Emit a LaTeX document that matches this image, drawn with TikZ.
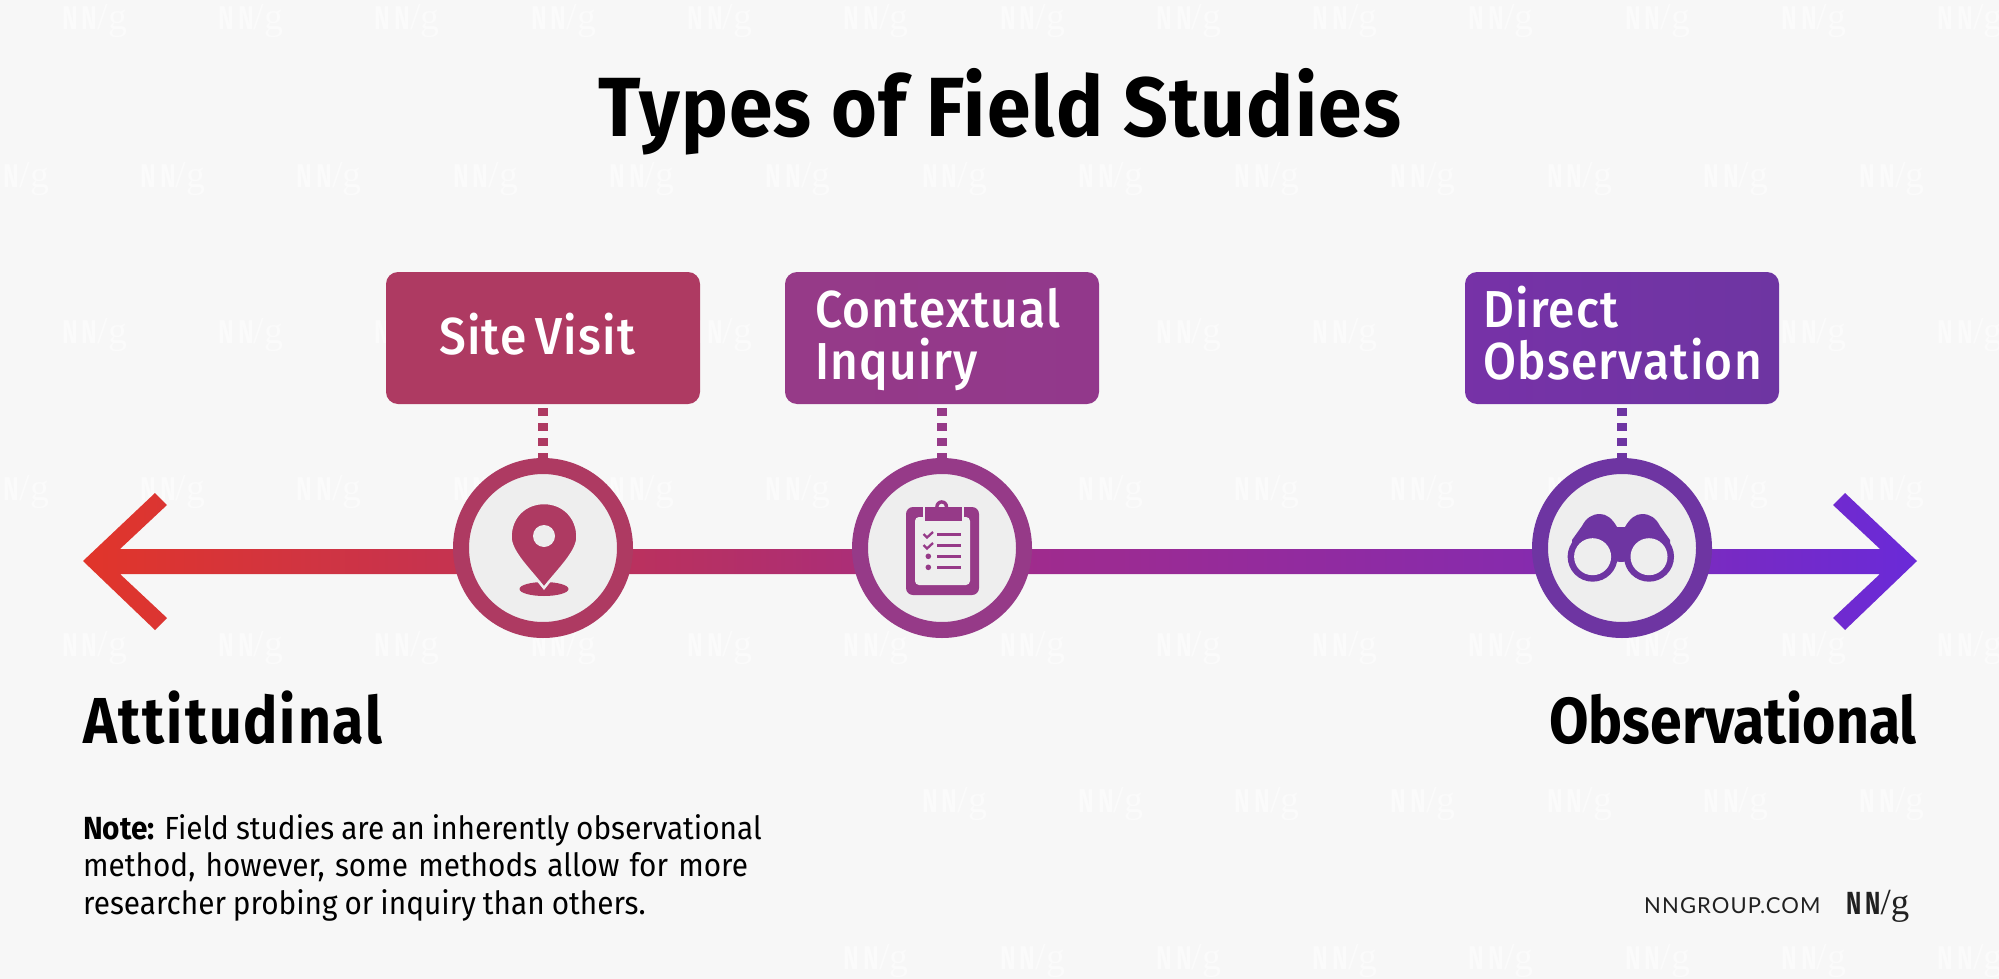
\documentclass[tikz,border=0pt]{standalone}
\usepackage{fontspec}
\setmainfont{Fira Sans}
\newfontfamily\tfont[FakeStretch=.935,LetterSpace=1.5]{Fira Sans Bold}
\newfontfamily\hfont[FakeStretch=.88]{Fira Sans Bold}
\newfontfamily\afont[FakeStretch=.88,LetterSpace=3]{Fira Sans Bold}
\newfontfamily\bfont[FakeStretch=.92,LetterSpace=2.5]{Fira Sans Medium}
\newfontfamily\nfont[FakeStretch=.93]{Fira Sans}
\newfontfamily\nbold[FakeStretch=.93]{Fira Sans Bold}
\newfontfamily\lfont[LetterSpace=5]{Lato}
\newfontfamily\nnf[FakeStretch=.72,LetterSpace=12]{Fira Sans Bold}
\newfontfamily\ggf[Scale=1.15]{Liberation Serif}
\newcommand{\nnmark}{{\nnf NN}{\ggf /g}}
\definecolor{bgc}{HTML}{F7F7F7}
\definecolor{wm}{HTML}{FBFBFB}
\definecolor{ca}{HTML}{E1352A}
\definecolor{cb}{HTML}{C7334E}
\definecolor{cc}{HTML}{B63064}
\definecolor{cd}{HTML}{9F2B8E}
\definecolor{ce}{HTML}{862BAE}
\definecolor{cf}{HTML}{6A2AD8}
\definecolor{one}{HTML}{AE3A62}
\definecolor{two}{HTML}{963A88}
\definecolor{three}{HTML}{6E35A2}
\definecolor{hole}{HTML}{EEEEEE}
\pgfdeclarehorizontalshading{axisg}{100bp}{color(0bp)=(ca); color(25bp)=(ca); color(34.5bp)=(cb); color(41.8bp)=(cc); color(51.1bp)=(cd); color(64.5bp)=(ce); color(75bp)=(cf); color(100bp)=(cf)}
\tikzset{
  boxnode/.style={rectangle,rounded corners=12pt,minimum width=314pt,minimum height=132pt,inner sep=0pt,text=white,font=\fontsize{52}{52}\selectfont\bfont},
  ringnode/.style={circle,line width=16pt,minimum size=164pt,inner sep=0pt,fill=hole},
  dots/.style={line width=10pt,dash pattern=on 7.5pt off 7.5pt,dash phase=11pt},
  wmark/.style={anchor=base west,inner sep=0pt,text=wm,font=\fontsize{33}{33}\selectfont},
  headtext/.style={anchor=base west,inner sep=0pt,text=black,font=\fontsize{65}{65}\selectfont\hfont},
}
\begin{document}
\begin{tikzpicture}[x=1pt,y=-1pt]
\useasboundingbox (0,0) rectangle (1999,979);
\fill[bgc] (0,0) rectangle (1999,979);
% watermark rows
\foreach \r/\by in {1/30,3/343,5/656,7/969}{
  \foreach \k in {0,...,12}{
    \pgfmathsetmacro{\wx}{62+156.3*\k}
    \pgfmathparse{(\r>=7 && \wx<840) ? 0 : 1}
    \ifnum\pgfmathresult>0
      \node[wmark] (wa\r\k) at (\wx,\by) {\nnmark};
    \fi
  }
}
\foreach \r/\by in {2/187,4/500,6/812}{
  \foreach \k in {0,...,13}{
    \pgfmathsetmacro{\wx}{-16+156.3*\k}
    \pgfmathparse{(\r>=6 && \wx<840) ? 0 : 1}
    \ifnum\pgfmathresult>0
      \node[wmark] (wb\r\k) at (\wx,\by) {\nnmark};
    \fi
  }
}
% axis
\path[shading=axisg,shading angle=0]
 (83,561) -- (155,493) -- (167,505) -- (120,549) -- (1880,549) -- (1833,505) -- (1845,493) -- (1917,561)
 -- (1845,630) -- (1833,618) -- (1880,574) -- (120,574) -- (167,618) -- (155,630) -- cycle;
% boxes
\node[boxnode,fill=one,align=left,text width=208pt] (b1) at (543,338) {\spaceskip=9pt\rule[-15pt]{0pt}{62pt}Site Visit};
\node[boxnode,left color=two,right color=two!97!blue,align=left,text width=254pt] (b2) at (942,338) {\rule{0pt}{47pt}Contextual\\Inquiry\rule[-17pt]{0pt}{17pt}};
\node[boxnode,left color=three!94!magenta,right color=three,align=left,text width=278pt] (b3) at (1622,338) {\rule{0pt}{47pt}Direct\\Observation\rule[-17pt]{0pt}{17pt}};
% rings
\node[ringnode,draw=one] (c1) at (543,548) {};
\node[ringnode,draw=two] (c2) at (942,548) {};
\node[ringnode,draw=three] (c3) at (1622,548) {};
% connectors
\draw[dots,one] (b1.south) -- (c1.north);
\draw[dots,two] (b2.south) -- (c2.north);
\draw[dots,three] (b3.south) -- (c3.north);
% pin icon
\fill[one] (544,589) ellipse [x radius=24.5,y radius=7];
\fill[one,draw=hole,line width=2.5pt] (544,588) .. controls (530,570) and (510.5,552) .. (510.5,537)
  .. controls (510.5,517) and (525,503) .. (544,503) .. controls (563,503) and (577.5,517) .. (577.5,537)
  .. controls (577.5,552) and (558,570) .. (544,588) -- cycle;
\fill[hole] (544,536) circle [radius=11];
% clipboard icon
\fill[two] (906,514) arc[start angle=180,end angle=270,radius=7] -- (972,507) arc[start angle=-90,end angle=0,radius=7] -- (979,588) arc[start angle=0,end angle=90,radius=7] -- (913,595) arc[start angle=90,end angle=180,radius=7] -- cycle;
\fill[hole,rounded corners=4pt] (915,517) rectangle (970,585);
\fill[two,draw=hole,line width=3.5pt] (925,507) rectangle (962,520.7);
\fill[hole] (924,503) rectangle (963,507);
\fill[two] (941.7,506.7) circle [radius=6.5];
\fill[hole] (941.7,506.7) circle [radius=3];
\fill[two] (925,507) rectangle (962,520.7);
\foreach \ly in {534.3,545.3,556.3,567.3}{\draw[two,line width=2.5pt] (937.3,\ly) -- (961,\ly);}
\foreach \ly in {534,545}{\draw[two,line width=2.3pt] (923.5,\ly) -- (927,\ly+3.5) -- (933,\ly-2);}
\foreach \ly in {556.3,567.3}{\fill[two] (928.3,\ly) circle [radius=2.8];}
% binoculars icon
\fill[three] (1621,527) -- (1617,527) .. controls (1612,518) and (1606,514) .. (1600,514)
  .. controls (1592,514) and (1586,518) .. (1582,526) -- (1572,540) -- (1572,557) -- (1621,562)
  -- (1670,557) -- (1670,540) -- (1660,526) .. controls (1656,518) and (1650,514) .. (1642,514)
  .. controls (1636,514) and (1630,518) .. (1625,527) -- cycle;
\fill[three] (1592.6,556.7) circle [radius=25] (1649,556.7) circle [radius=25];
\fill[hole] (1592.6,556.7) circle [radius=18.5] (1649,556.7) circle [radius=18.5];
% texts
\node[anchor=base,inner sep=0pt,font=\fontsize{84}{84}\selectfont\tfont] (title) at (1000,136) {Types of Field Studies};
\node[headtext,font=\fontsize{65}{65}\selectfont\afont] (att) at (83,743) {Attitudinal};
\node[headtext,anchor=base east] (obs) at (1917,743) {Observational};
\node[anchor=north west,inner sep=0pt,align=left,font=\fontsize{32}{37.5}\selectfont\nfont] (note) at (83,807) {\spaceskip=7pt\rule{0pt}{32pt}{\nbold Note:} Field studies are an inherently observational\\\spaceskip=10.2pt method, however, some methods allow for more\\\spaceskip=7pt researcher probing or inquiry than others.};
\node[anchor=base west,inner sep=0pt,text=black!87,font=\fontsize{22}{22}\selectfont\lfont] (url) at (1644,913) {NNGROUP.COM};
\node[anchor=base west,inner sep=0pt,text=black!87,font=\fontsize{32}{32}\selectfont] (logo) at (1846,914) {\nnmark};
\end{tikzpicture}
\end{document}
